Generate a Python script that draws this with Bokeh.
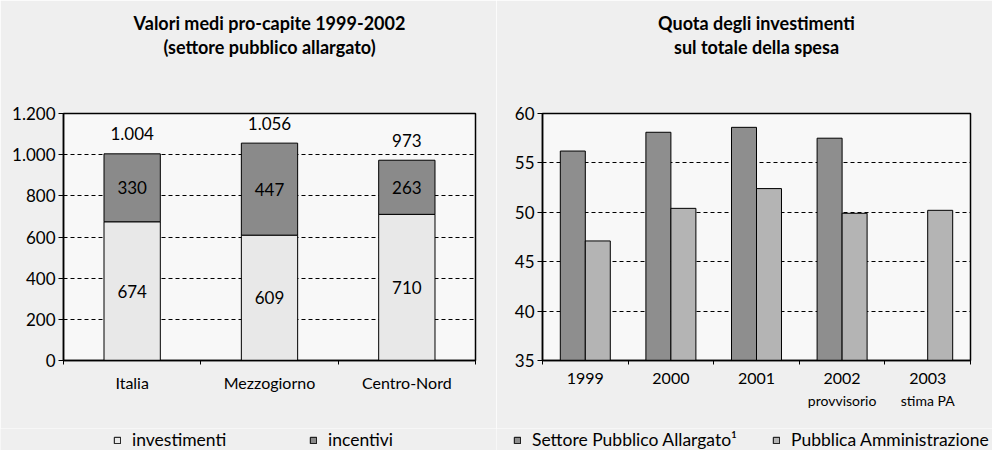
import numpy as np
from bokeh.plotting import figure
from bokeh.models import (ColumnDataSource, Range1d, FixedTicker, Legend, LegendItem, LinearAxis, Title)
from bokeh.layouts import row, column
from bokeh.embed import file_html
from bokeh.resources import INLINE
from bokeh.core.properties import value
from bokeh.transform import dodge

# ---------------- data ----------------
regions = ["Italia", "Mezzogiorno", "Centro-Nord"]
investimenti = [674, 609, 710]
incentivi = [330, 447, 263]
left_yticks = [0, 200, 400, 600, 800, 1000, 1200]

years = ["1999", "2000", "2001", "2002", "2003"]
year_notes = ["", "", "", "provvisorio", "stima PA"]
spa = [56.2, 58.1, 58.6, 57.5, float("nan")]
pa = [47.1, 50.4, 52.4, 49.9, 50.2]
right_yticks = [35, 40, 45, 50, 55, 60]

title_left = ["Valori medi pro-capite 1999-2002", "(settore pubblico allargato)"]
title_right = ["Quota degli investimenti", "sul totale della spesa"]

FONT = "Lato"
PAGE_BG = "#efefef"
PLOT_BG = "#f8f8f8"
INV_COL, INC_COL = "#e8e8e8", "#8a8a8a"
SPA_COL, PA_COL = "#8e8e8e", "#b4b4b4"
H = 428      # chart height
LH = 22      # legend strip height


def it_fmt(v):
    return f"{v:,}".replace(",", ".")


def style_axes(p, xt, yt, ylabels, grid_ticks):
    xa = p.below[0]
    ya = p.left[0]
    for ax in (xa, ya):
        ax.axis_line_color = "black"
        ax.axis_line_width = 1.5
        ax.major_label_text_font = FONT
        ax.major_label_text_color = "black"
        ax.major_tick_line_color = "black"
        ax.minor_tick_line_color = "black"
        ax.major_tick_in = 0
        ax.minor_tick_in = 0
    xa.ticker = xt
    xa.major_tick_out = 0
    xa.minor_tick_out = 4
    xa.major_label_text_font_size = "16px"
    xa.major_label_standoff = 8
    ya.ticker = yt
    ya.major_tick_out = 5
    ya.minor_tick_out = 0
    ya.major_label_text_font_size = "17px"
    ya.major_label_standoff = 3
    ya.major_label_overrides = ylabels
    p.xgrid.visible = False
    p.ygrid.ticker = FixedTicker(ticks=grid_ticks)
    p.ygrid.grid_line_color = "black"
    p.ygrid.grid_line_dash = "4 3"
    p.ygrid.grid_line_width = 1
    return xa


def add_titles(p, lines):
    # empty axis used as a vertical spacer between the frame and the title lines
    spacer = LinearAxis(ticker=FixedTicker(ticks=[]), axis_line_color=None,
                        major_tick_line_color=None, minor_tick_line_color=None,
                        major_tick_out=0, major_tick_in=0, minor_tick_out=0, minor_tick_in=0,
                        major_label_standoff=0,
                        axis_label=" ", axis_label_text_font_size="10px",
                        axis_label_standoff=42)
    p.add_layout(spacer, "above")
    for line in reversed(lines):
        p.add_layout(Title(text=line, align="center", text_font=FONT, text_font_size="18px",
                           text_font_style="bold", text_color="black",
                           text_line_height=0.78, standoff=0), "above")


def legend_strip(labels, colors, x, lw):
    f = figure(width=496, height=LH, x_range=Range1d(0, 1), y_range=Range1d(0, 1),
               output_backend="svg", toolbar_location=None,
               x_axis_location=None, y_axis_location=None,
               min_border=0, outline_line_color=None,
               background_fill_color=PAGE_BG, border_fill_color=PAGE_BG)
    f.grid.visible = False
    items = []
    for lab, col in zip(labels, colors):
        # legend carrier, kept outside the visible range
        r = f.vbar(x=[3], bottom=[0], top=[1], width=0.1,
                   fill_color=col, line_color="black", line_width=1)
        items.append(LegendItem(label=lab, renderers=[r]))
    leg = Legend(items=items, orientation="horizontal", location=(x, 0),
                 glyph_width=8, glyph_height=8, label_standoff=11, label_width=lw,
                 label_height=18, spacing=0, padding=0, margin=0,
                 border_line_color=None, background_fill_alpha=0,
                 label_text_font=FONT, label_text_font_size="17.5px", label_text_color="black")
    f.add_layout(leg, "center")
    return f


# ---------------- left chart ----------------
n1 = len(regions)
xc1 = [i + 0.5 for i in range(n1)]
totals = [a + b for a, b in zip(investimenti, incentivi)]
src1 = ColumnDataSource(dict(
    x=xc1,
    inv=investimenti,
    tot=totals,
    inv_mid=[v / 2 for v in investimenti],
    inc_mid=[a + b / 2 for a, b in zip(investimenti, incentivi)],
    inv_lbl=[str(v) for v in investimenti],
    inc_lbl=[str(v) for v in incentivi],
    tot_lbl=[it_fmt(v) for v in totals],
))

p1 = figure(width=496, height=H, x_range=Range1d(0, n1), y_range=Range1d(0, 1200),
            output_backend="svg", toolbar_location=None,
            min_border_left=63, min_border_right=21, min_border_top=113, min_border_bottom=H - 360,
            background_fill_color=PLOT_BG, border_fill_color=PAGE_BG,
            outline_line_color="black", outline_line_width=1.5)

p1.vbar(x="x", width=0.41, bottom=0, top="inv", source=src1,
        fill_color=INV_COL, line_color="black", line_width=1)
p1.vbar(x="x", width=0.41, bottom="inv", top="tot", source=src1,
        fill_color=INC_COL, line_color="black", line_width=1)

for ycol, tcol, off in (("inv_mid", "inv_lbl", 0), ("inc_mid", "inc_lbl", 0), ("tot", "tot_lbl", -20)):
    p1.text(x="x", y=ycol, text=tcol, source=src1, y_offset=off,
            text_align="center", text_baseline="middle",
            text_font=value(FONT), text_font_size="17px", text_color="black")

xa1 = style_axes(p1,
                 FixedTicker(ticks=xc1, minor_ticks=list(range(n1 + 1))),
                 FixedTicker(ticks=left_yticks),
                 {t: it_fmt(t) for t in left_yticks},
                 left_yticks[1:-1])
xa1.major_label_overrides = {x: r for x, r in zip(xc1, regions)}
add_titles(p1, title_left)

# ---------------- right chart ----------------
n2 = len(years)
xc2 = [i + 0.5 for i in range(n2)]
src2 = ColumnDataSource(dict(x=xc2, spa=spa, pa=pa))

p2 = figure(width=496, height=H, x_range=Range1d(0, n2), y_range=Range1d(35, 60),
            output_backend="svg", toolbar_location=None,
            min_border_left=46, min_border_right=22, min_border_top=113, min_border_bottom=H - 362,
            background_fill_color=PLOT_BG, border_fill_color=PAGE_BG,
            outline_line_color="black", outline_line_width=1.5)

p2.vbar(x=dodge("x", -0.146), width=0.292, bottom=35, top="spa", source=src2,
        fill_color=SPA_COL, line_color="black", line_width=1)
p2.vbar(x=dodge("x", 0.146), width=0.292, bottom=35, top="pa", source=src2,
        fill_color=PA_COL, line_color="black", line_width=1)

xa2 = style_axes(p2,
                 FixedTicker(ticks=xc2, minor_ticks=list(range(n2 + 1))),
                 FixedTicker(ticks=right_yticks),
                 {},
                 right_yticks[1:-1])
xa2.major_label_overrides = {x: y for x, y in zip(xc2, years)}

# second line of the year labels (smaller text)
notes_axis = LinearAxis(ticker=FixedTicker(ticks=xc2),
                        major_label_overrides={x: nt for x, nt in zip(xc2, year_notes)},
                        axis_line_color=None, major_tick_line_color=None,
                        major_tick_in=0, major_tick_out=0, minor_tick_line_color=None,
                        major_label_standoff=5, major_label_text_font=FONT,
                        major_label_text_font_size="14px", major_label_text_color="black")
p2.add_layout(notes_axis, "below")
add_titles(p2, title_right)

# ---------------- legends ----------------
l1 = legend_strip(["investimenti", "incentivi"], [INV_COL, INC_COL], 113, 177)
l2 = legend_strip(["Settore Pubblico Allargato\u00b9", "Pubblica Amministrazione"],
                  [SPA_COL, PA_COL], 17, 240)

layout = column(row(p1, p2), row(l1, l2))
open("out.html", "w").write(file_html(layout, INLINE))
